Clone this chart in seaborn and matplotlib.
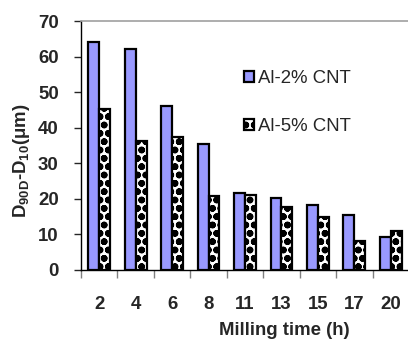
import matplotlib
matplotlib.use("Agg")
import matplotlib.pyplot as plt
import numpy as np
import pandas as pd
import seaborn as sns

# milling time categories and D90-D10 spread for both alloys
hours = ["2", "4", "6", "8", "11", "13", "15", "17", "20"]
al2_cnt = [64, 62, 46, 35.3, 21.7, 20.2, 18.4, 15.5, 9.4]
al5_cnt = [45.3, 36.2, 37.5, 20.9, 21, 17.7, 15, 8.2, 11]
series = ["Al-2% CNT", "Al-5% CNT"]

sns.set_style("white")
plt.rcParams['font.family'] = ['Liberation Sans', 'DejaVu Sans']
plt.rcParams['mathtext.fontset'] = 'custom'
plt.rcParams['mathtext.rm'] = 'Liberation Sans'
plt.rcParams['mathtext.bf'] = 'Liberation Sans:bold'
plt.rcParams['hatch.linewidth'] = 2.4

df = pd.DataFrame({
    "hours": hours * 2,
    "val": al2_cnt + al5_cnt,
    "series": [series[0]] * len(hours) + [series[1]] * len(hours),
})

fig = plt.figure(figsize=(4.08, 3.41), dpi=100)
ax = fig.add_axes([81 / 408, 1 - 270 / 341, 328 / 408, 249 / 341])

sns.barplot(data=df, x="hours", y="val", hue="series", order=hours,
            palette=["#9999FF", "white"], width=0.6, ax=ax,
            edgecolor="black", linewidth=1.6, saturation=1, legend=False)

for p in ax.containers[1]:
    p.set_hatch("oo")

ax.set_ylim(0, 70)
ax.set_xlim(-0.5, len(hours) - 0.5)
ax.set_yticks(np.arange(0, 71, 10))

fs = 13.4
ax.tick_params(axis="y", labelsize=fs, length=5, width=1, pad=11, direction="out", left=True)
for t in ax.get_yticklabels():
    t.set_fontweight("bold")
ax.tick_params(axis="x", which="major", labelsize=fs, length=0, pad=19)
for t in ax.get_xticklabels():
    t.set_fontweight("bold")
ax.set_xticks(np.arange(-0.5, len(hours)), minor=True)
ax.tick_params(axis="x", which="minor", length=6, width=1, color="#808080", bottom=True, direction="out")

for side in ["left", "bottom"]:
    ax.spines[side].set_color("black")
    ax.spines[side].set_linewidth(1)
ax.spines["right"].set_visible(False)
ax.spines["top"].set_color("#a0a0a0")
ax.spines["top"].set_linewidth(1.2)

ax.set_xlabel("Milling time (h)", fontsize=fs, fontweight="bold")
ax.xaxis.set_label_coords(0.62, -0.21)
ax.set_ylabel(r"D$_\mathbf{90D}$-D$_\mathbf{10}$(μm)", fontsize=fs, fontweight="bold")
ax.yaxis.set_label_coords(-0.15, 0.44)

handles = [ax.containers[0].patches[0], ax.containers[1].patches[0]]
ax.legend(handles, series, loc="upper left", bbox_to_anchor=(244 / 408, 1 - 70 / 341),
          bbox_transform=fig.transFigure, frameon=False, fontsize=fs,
          handlelength=0.55, handleheight=0.55, handletextpad=0.2,
          labelspacing=1.65, borderpad=0, borderaxespad=0)

fig.savefig("out.png", dpi=100)
